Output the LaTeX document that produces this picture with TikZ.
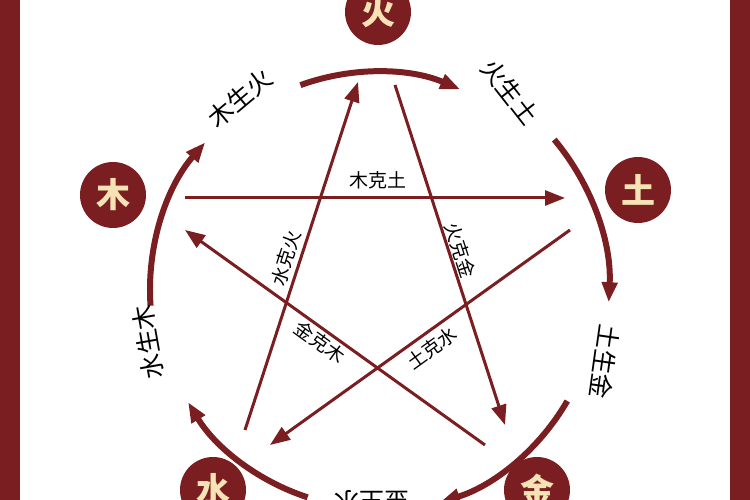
\documentclass[tikz,border=0pt]{standalone}
\usepackage{fontspec}
\setmainfont{Noto Sans CJK SC}
\usetikzlibrary{arrows.meta}
\definecolor{wxred}{HTML}{7A1E22}
\definecolor{wxgold}{HTML}{F5E3B5}
\tikzset{>={Triangle[length=20pt,width=15pt]},
  elem/.style={circle, fill=wxred, minimum size=66pt, inner sep=0pt, text=wxgold, font=\fontsize{34}{34}\selectfont\bfseries},
  lbl/.style={font=\fontsize{25}{25}\selectfont, text=black, inner sep=1pt},
  klbl/.style={font=\fontsize{19}{19}\selectfont, text=black, inner sep=1pt},
  sheng/.style={->, line width=6pt, wxred},
  ke/.style={->, line width=3pt, wxred}}
\begin{document}
\begin{tikzpicture}[x=1pt,y=1pt]
\useasboundingbox (0,0) rectangle (750,500);
\fill[wxred] (0,0) rectangle (20,500);
\fill[wxred] (730,0) rectangle (750,500);
\coordinate (c) at (375,210);
% elements
\node[elem] (huo) at (378,488) {火};
\node[elem] (mu) at (113,305) {木};
\node[elem] (tu) at (638,310) {土};
\node[elem] (shui) at (213,10) {水};
\node[elem] (jin) at (537,10) {金};
% generating cycle
\draw[sheng] ([shift={(110:218)}]c) arc (110:67:218);
\draw[sheng] ([shift={(40:234)}]c) arc (40:-3:234);
\draw[sheng] ([shift={(-30:222)}]c) arc (-30:-73:222);
\draw[sheng] ([shift={(-108:218)}]c) arc (-108:-149:218);
\draw[sheng] ([shift={(184:225)}]c) arc (184:139:225);
\node[lbl, rotate=40] (mshh) at (240,402) {木生火};
\node[lbl, rotate=-52] (hsht) at (510,408) {火生土};
\node[lbl, rotate=-98] (tshj) at (605,138) {土生金};
\node[lbl, rotate=180] (jshs) at (372,-2) {金生水};
\node[lbl, rotate=100] (sshm) at (148,158) {水生木};
% controlling star
\coordinate (s1) at (185,302);
\coordinate (e1) at (565,302);
\coordinate (s2) at (245,70);
\coordinate (e2) at (358,418);
\coordinate (s3) at (395,415);
\coordinate (e3) at (505,75);
\coordinate (s4) at (570,270);
\coordinate (e4) at (270,55);
\coordinate (s5) at (485,55);
\coordinate (e5) at (185,270);
\draw[ke] (s1) -- (e1);
\draw[ke] (s2) -- (e2);
\draw[ke] (s3) -- (e3);
\draw[ke] (s4) -- (e4);
\draw[ke] (s5) -- (e5);
\node[klbl] (mkt) at (378,320) {木克土};
\node[klbl, rotate=72] (skh) at (286,242) {水克火};
\node[klbl, rotate=-72] (hkj) at (460,250) {火克金};
\node[klbl, rotate=36] (tks) at (432,152) {土克水};
\node[klbl, rotate=-36] (jkm) at (320,158) {金克木};
\end{tikzpicture}
\end{document}
